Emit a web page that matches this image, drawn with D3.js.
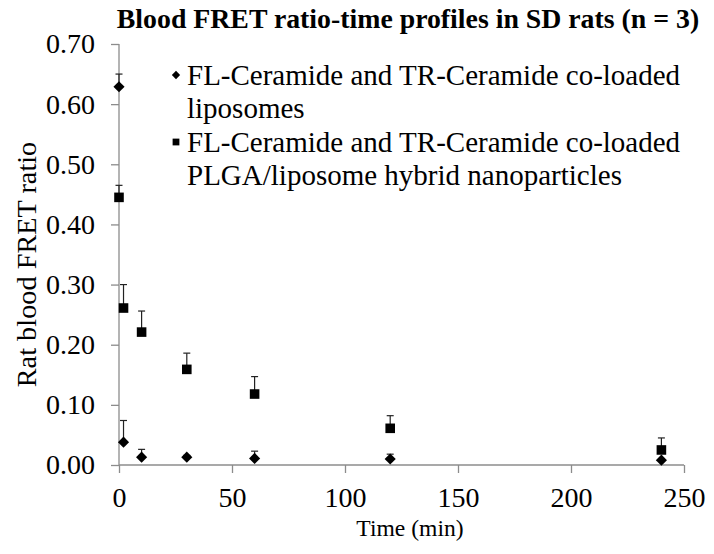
<!DOCTYPE html>
<html>
<head>
<meta charset="utf-8">
<script src="https://cdn.jsdelivr.net/npm/d3@7"></script>
<style>
  body { margin: 0; background: #fff; }
</style>
</head>
<body>
<svg id="svg" width="714" height="554"></svg>
<script>
// sampling times (min)
const times = [0, 2, 10, 30, 60, 120, 240];

// liposomes (diamonds)
const lipoMean = [0.629, 0.038, 0.013, 0.013, 0.011, 0.010, 0.008];
const lipoErr  = [0.021, 0.036, 0.013, 0.003, 0.012, 0.008, 0.000];

// PLGA/liposome hybrid nanoparticles (squares)
const hybridMean = [0.445, 0.261, 0.221, 0.159, 0.118, 0.061, 0.025];
const hybridErr  = [0.020, 0.039, 0.035, 0.027, 0.029, 0.021, 0.020];

const xTicks = [0, 50, 100, 150, 200, 250];
const yTicks = [0, 0.1, 0.2, 0.3, 0.4, 0.5, 0.6, 0.7];

const legendLabels = [
    ["FL-Ceramide and TR-Ceramide co-loaded", "liposomes"],
    ["FL-Ceramide and TR-Ceramide co-loaded", "PLGA/liposome hybrid nanoparticles"]
];

const FONT = "'Liberation Serif', 'Times New Roman', serif";
const svg = d3.select("#svg").attr("font-family", FONT);
const axisColor = "#8c8c8c";

// plot area
const x = d3.scaleLinear().domain([0, 250]).range([119, 684]);
const y = d3.scaleLinear().domain([0, 0.7]).range([465, 44]);

// title
svg.append("text")
    .attr("x", 408)
    .attr("y", 28)
    .attr("text-anchor", "middle")
    .attr("font-family", FONT)
    .attr("font-weight", "bold")
    .attr("font-size", 27.8)
    .text("Blood FRET ratio-time profiles in SD rats (n = 3)");

// axes
const yAxis = d3.axisLeft(y)
    .tickValues(yTicks)
    .tickFormat(d3.format(".2f"))
    .tickSize(8)
    .tickPadding(16);
const xAxis = d3.axisBottom(x)
    .tickValues(xTicks)
    .tickSize(8)
    .tickPadding(14);

const gy = svg.append("g")
    .attr("transform", `translate(${x(0)},0)`)
    .call(yAxis);
const gx = svg.append("g")
    .attr("transform", `translate(0,${y(0)})`)
    .call(xAxis);

[gx, gy].forEach(g => {
    g.attr("font-family", FONT).attr("font-size", 28);
    g.select(".domain").attr("stroke", axisColor).attr("stroke-width", 1.3);
    g.selectAll(".tick line").attr("stroke", axisColor).attr("stroke-width", 1.3);
    g.selectAll(".tick text").attr("fill", "#000");
});
// plain domain lines, without the end caps
gy.select(".domain").attr("d", `M0,${y(0.7)}V${y(0)}`);
gx.select(".domain").attr("d", `M${x(0)},0H${x(250)}`);

// axis titles
svg.append("text")
    .attr("transform", `translate(36,${(y(0) + y(0.7)) / 2 + 10}) rotate(-90)`)
    .attr("text-anchor", "middle")
    .attr("font-family", FONT)
    .attr("font-size", 28.3)
    .text("Rat blood FRET ratio");

svg.append("text")
    .attr("x", 410)
    .attr("y", 536)
    .attr("text-anchor", "middle")
    .attr("font-family", FONT)
    .attr("font-size", 23.6)
    .text("Time (min)");

// series
const series = [
    { mean: lipoMean, err: lipoErr, shape: "diamond" },
    { mean: hybridMean, err: hybridErr, shape: "square" }
];

const markerPath = (shape, scale) => shape === "square"
    ? d3.symbol(d3.symbolSquare, 92 * scale)()
    : d3.symbol(d3.symbolSquare, 62 * scale)();

series.forEach(s => {
    const pts = times.map((t, i) => ({ t, v: s.mean[i], e: s.err[i] }));
    const g = svg.append("g");

    // upper error bars only
    const eb = g.selectAll(".eb").data(pts.filter(d => d.e > 0)).join("g");
    eb.append("line")
        .attr("x1", d => x(d.t)).attr("x2", d => x(d.t))
        .attr("y1", d => y(d.v)).attr("y2", d => y(d.v + d.e))
        .attr("stroke", "#222").attr("stroke-width", 1.2);
    eb.append("line")
        .attr("x1", d => x(d.t) - 3.5).attr("x2", d => x(d.t) + 3.5)
        .attr("y1", d => y(d.v + d.e)).attr("y2", d => y(d.v + d.e))
        .attr("stroke", "#222").attr("stroke-width", 1.2);

    g.selectAll(".pt").data(pts).join("path")
        .attr("d", markerPath(s.shape, 1))
        .attr("transform", d => `translate(${x(d.t)},${y(d.v)})` + (s.shape === "diamond" ? " rotate(45)" : ""))
        .attr("fill", "#000");
});

// legend
const legend = svg.append("g").attr("transform", "translate(176,0)");
legendLabels.forEach((lines, i) => {
    const top = 75 + i * 67;
    legend.append("path")
        .attr("d", markerPath(series[i].shape, i === 0 ? 0.55 : 0.5))
        .attr("transform", `translate(0,${top})` + (i === 0 ? " rotate(45)" : ""))
        .attr("fill", "#000");
    lines.forEach((line, j) => {
        legend.append("text")
            .attr("x", 11)
            .attr("y", top + 10 + j * 33)
            .attr("font-family", FONT)
            .attr("font-size", 29)
            .text(line);
    });
});
</script>
</body>
</html>
